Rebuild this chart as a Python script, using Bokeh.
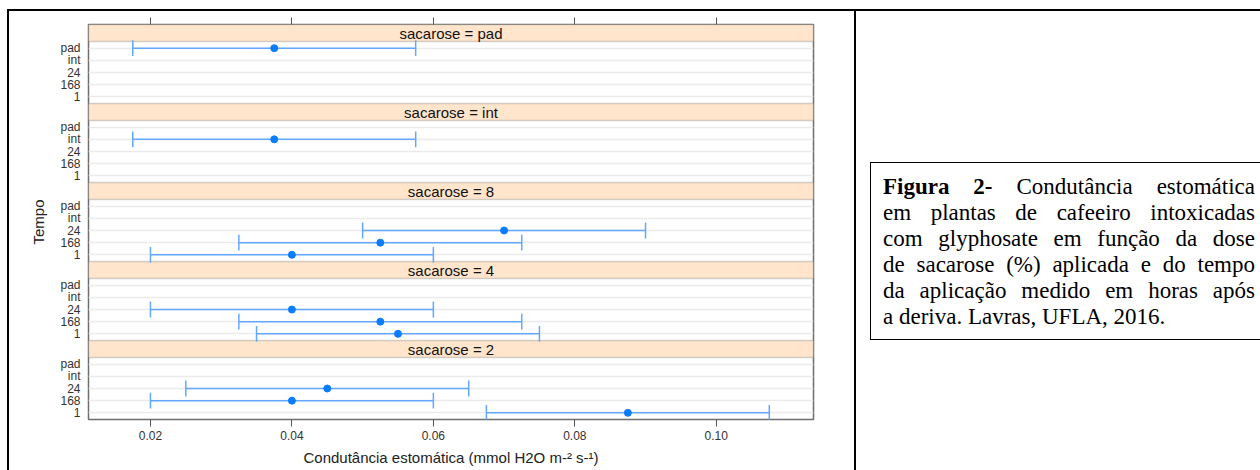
from bokeh.plotting import figure
from bokeh.models import FixedTicker, LinearAxis, Range1d, BoxAnnotation, Div
from bokeh.layouts import row, column
from bokeh.core.properties import value
from bokeh.embed import file_html
from bokeh.resources import INLINE

# ---------------- data ----------------
sacarose_niveis = ["2", "4", "8", "int", "pad"]      # panels, bottom -> top
tempo_niveis = ["1", "168", "24", "int", "pad"]       # rows inside a panel, bottom -> top
sacarose = ["pad", "int", "8", "8", "8", "4", "4", "4", "2", "2", "2"]
tempo = ["pad", "int", "24", "168", "1", "24", "168", "1", "24", "168", "1"]
media = [0.0375, 0.0375, 0.070, 0.0525, 0.040, 0.040, 0.0525, 0.055, 0.045, 0.040, 0.0875]
inferior = [0.0175, 0.0175, 0.050, 0.0325, 0.020, 0.020, 0.0325, 0.035, 0.025, 0.020, 0.0675]
superior = [0.0575, 0.0575, 0.090, 0.0725, 0.060, 0.060, 0.0725, 0.075, 0.065, 0.060, 0.1075]
x_ticks = [0.02, 0.04, 0.06, 0.08, 0.10]
x_tick_labels = ["0.02", "0.04", "0.06", "0.08", "0.10"]
x_limites = (0.01124, 0.11375)
x_titulo = "Condutância estomática (mmol H2O m-² s-¹)"
y_titulo = "Tempo"
legenda_linhas = [
    "<b>Figura 2-</b> Condutância estomática",
    "em plantas de cafeeiro intoxicadas",
    "com glyphosate em função da dose",
    "de sacarose (%) aplicada e do tempo",
    "da aplicação medido em horas após",
]
legenda_ultima = "a deriva. Lavras, UFLA, 2016."

# ---------------- layout of the trellis in y units ----------------
PANEL = 13      # units per panel (body + strip)
ROW = 2         # units per row
BODY_LO, BODY_HI = 0.9, 11.1
STRIP_HI = 13.9
CAP = 1.3

def ypos(s, t):
    return PANEL * sacarose_niveis.index(s) + ROW * (tempo_niveis.index(t) + 1)

ys = [ypos(s, t) for s, t in zip(sacarose, tempo)]
y_ticks = [PANEL * j + ROW * (i + 1) for j in range(len(sacarose_niveis)) for i in range(len(tempo_niveis))]
y_labels = {PANEL * j + ROW * (i + 1): tempo_niveis[i]
            for j in range(len(sacarose_niveis)) for i in range(len(tempo_niveis))}

FONT = "Liberation Sans"
LINE_BLUE = "#63a8ff"
DOT_BLUE = "#0a7dff"
FRAME = "#6e6e6e"

p = figure(width=845, height=459, output_backend="svg", toolbar_location=None,
           x_range=Range1d(*x_limites),
           y_range=Range1d(BODY_LO, PANEL * (len(sacarose_niveis) - 1) + STRIP_HI),
           min_border_left=79, min_border_right=41, min_border_top=13, min_border_bottom=51,
           margin=0)
p.background_fill_color = "white"
p.border_fill_color = "white"
p.outline_line_color = FRAME
p.outline_line_width = 1.5

# grid
p.xgrid.grid_line_color = None
p.ygrid.ticker = FixedTicker(ticks=y_ticks)
p.ygrid.grid_line_color = "#ebebeb"
p.ygrid.grid_line_width = 1.5

# bottom axis
xa = p.xaxis[0]
xa.ticker = FixedTicker(ticks=x_ticks)
xa.major_label_overrides = dict(zip(x_ticks, x_tick_labels))
xa.axis_line_color = None
xa.major_tick_in = 0
xa.major_tick_out = 7
xa.major_tick_line_color = "#555555"
xa.minor_tick_line_color = None
xa.major_label_standoff = 4
xa.major_label_text_font = FONT
xa.major_label_text_font_size = "12px"
xa.major_label_text_color = "#333333"
xa.axis_label = x_titulo
xa.axis_label_text_font = FONT
xa.axis_label_text_font_size = "15px"
xa.axis_label_text_font_style = "normal"
xa.axis_label_text_color = "#222222"
xa.axis_label_standoff = 6

# top axis (ticks only)
ta = LinearAxis(ticker=FixedTicker(ticks=x_ticks),
                major_label_overrides={t: "" for t in x_ticks},
                major_label_text_font_size="0px", major_label_standoff=0,
                axis_line_color=None, major_tick_in=0, major_tick_out=7,
                major_tick_line_color="#555555", minor_tick_line_color=None)
p.add_layout(ta, "above")

# left axis
ya = p.yaxis[0]
ya.ticker = FixedTicker(ticks=y_ticks)
ya.major_label_overrides = y_labels
ya.axis_line_color = None
ya.major_tick_in = 0
ya.major_tick_out = 0
ya.minor_tick_line_color = None
ya.major_label_standoff = 8
ya.major_label_text_font = FONT
ya.major_label_text_font_size = "12px"
ya.major_label_text_color = "#333333"
ya.axis_label = y_titulo
ya.axis_label_text_font = FONT
ya.axis_label_text_font_size = "15px"
ya.axis_label_text_font_style = "normal"
ya.axis_label_text_color = "#222222"
ya.axis_label_standoff = 10

# strips
for j, nivel in enumerate(sacarose_niveis):
    p.add_layout(BoxAnnotation(bottom=PANEL * j + BODY_HI, top=PANEL * j + STRIP_HI,
                               fill_color="#ffe5cc", fill_alpha=1.0,
                               line_color=FRAME, line_width=1.5, level="underlay"))
strip_y = [PANEL * j + (BODY_HI + STRIP_HI) / 2 for j in range(len(sacarose_niveis))]
strip_txt = ["sacarose = " + s for s in sacarose_niveis]
xmid = (x_limites[0] + x_limites[1]) / 2
tr = p.text(x=[xmid] * len(strip_y), y=strip_y, text=strip_txt,
            text_align="center", text_baseline="middle",
            text_font=value(FONT), text_font_size="15px", text_color="#111111")

# error bars
p.segment(x0=inferior, y0=ys, x1=superior, y1=ys, line_color=LINE_BLUE, line_width=1.5)
p.segment(x0=inferior, y0=[y - CAP for y in ys], x1=inferior, y1=[y + CAP for y in ys],
          line_color=LINE_BLUE, line_width=1.5)
p.segment(x0=superior, y0=[y - CAP for y in ys], x1=superior, y1=[y + CAP for y in ys],
          line_color=LINE_BLUE, line_width=1.5)
p.scatter(x=media, y=ys, size=7, fill_color=DOT_BLUE, line_color=DOT_BLUE)

# ---------------- page frame and caption ----------------
def blk(w, h, color=None):
    st = {"background-color": color} if color else {}
    return Div(text="", width=w, height=h, margin=0, styles=st)

linhas_html = "".join(
    f'<div style="text-align:justify;text-align-last:justify;">{l}</div>' for l in legenda_linhas
) + f'<div style="text-align:left;">{legenda_ultima}</div>'
caption_html = (
    '<div style="padding-left:14px;padding-top:151px;">'
    '<div style="box-sizing:border-box;width:390px;border:1px solid #000;border-right:none;'
    'padding:11px 5px 9px 12px;font-family:\'Liberation Serif\',\'Times New Roman\',serif;'
    'font-size:23px;line-height:26px;color:#000;">'
    + linhas_html + '</div></div>'
)
caption = Div(text=caption_html, width=404, height=459, margin=0)

layout = column(
    blk(1260, 9),
    row(blk(7, 2), blk(1253, 2, "#000")),
    row(blk(7, 459), blk(2, 459, "#000"), p, blk(2, 459, "#000"), caption),
)

open("out.html", "w").write(file_html(layout, INLINE))
